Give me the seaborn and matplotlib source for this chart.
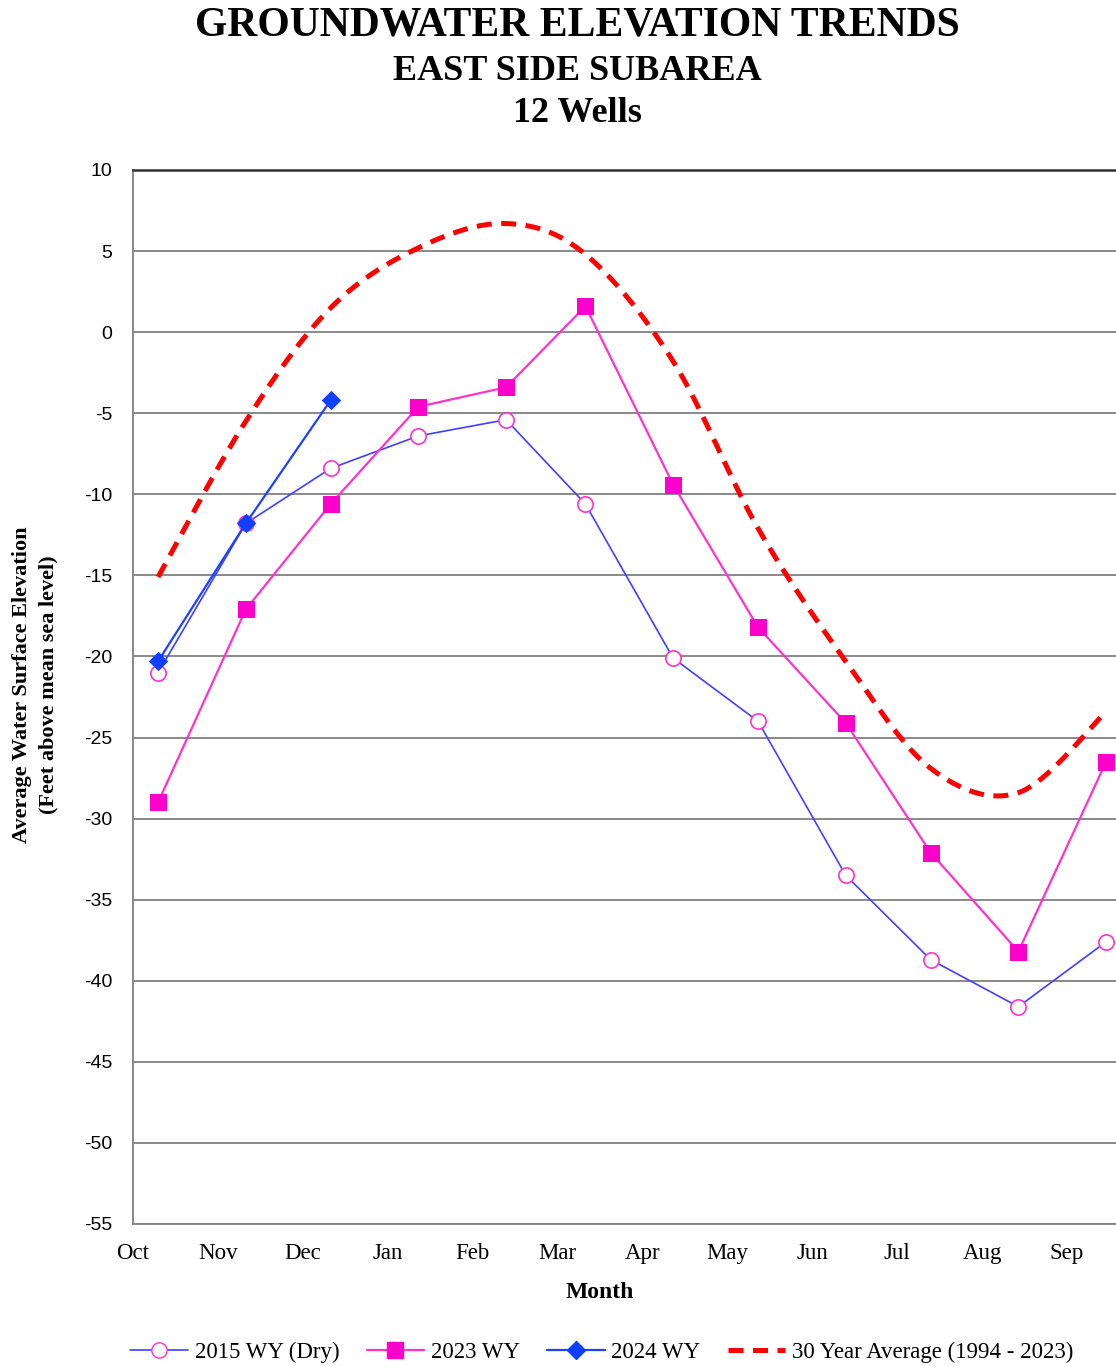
import numpy as np
import matplotlib
matplotlib.use("Agg")
import matplotlib.pyplot as plt
from matplotlib.lines import Line2D
import seaborn as sns

# Meses do ano hidrologico (Oct - Sep)
months = ['Oct', 'Nov', 'Dec', 'Jan', 'Feb', 'Mar', 'Apr', 'May', 'Jun', 'Jul', 'Aug', 'Sep']
# dia aproximado da medicao em cada mes
sample_day = [9, 10, 10, 11, 12, 10, 11, 11, 12, 12, 13, 14]

wy2015 = [-21.0, -11.8, -8.4, -6.4, -5.4, -10.6, -20.1, -24.0, -33.5, -38.7, -41.6, -37.6]
wy2023 = [-29.0, -17.1, -10.6, -4.6, -3.4, 1.6, -9.4, -18.2, -24.1, -32.1, -38.2, -26.5]
wy2024 = [-20.3, -11.8, -4.2]
avg30 = [-15.1, -5.5, 1.5, 5.2, 6.7, 4.8, -1.8, -12.1, -20.3, -26.9, -28.4, -23.4]

yticks = list(range(-55, 11, 5))

x = np.array([i + d / 30.5 for i, d in enumerate(sample_day)])


def smooth(xs, ys, n=25):
    # curva suavizada tipo Excel (Bezier cardinal)
    pts = np.column_stack([xs, ys])
    pad = np.vstack([pts[0], pts, pts[-1]])
    out = []
    t = np.linspace(0, 1, n)[:, None]
    for i in range(len(pts) - 1):
        p0, p1, p2, p3 = pad[i], pad[i + 1], pad[i + 2], pad[i + 3]
        c1 = p1 + (p2 - p0) / 6
        c2 = p2 - (p3 - p1) / 6
        seg = (1 - t) ** 3 * p1 + 3 * (1 - t) ** 2 * t * c1 + 3 * (1 - t) * t ** 2 * c2 + t ** 3 * p2
        out.append(seg if i == 0 else seg[1:])
    return np.vstack(out)


sns.set_style("white")
plt.rcParams['font.family'] = ['Liberation Serif', 'DejaVu Serif']
plt.rcParams['text.color'] = 'black'
plt.rcParams['axes.labelcolor'] = 'black'
plt.rcParams['xtick.color'] = 'black'
plt.rcParams['ytick.color'] = 'black'

fig = plt.figure(figsize=(11.16, 13.66), dpi=100)
ax = fig.add_axes([133 / 1116, 1 - 1224 / 1366, (1152 - 133) / 1116, (1224 - 170) / 1366])

c_blue = '#4040ff'
c_mag = '#ff33cc'
c_red = '#ff0000'

sns.lineplot(x=x, y=wy2015, ax=ax, color=c_blue, linewidth=1.2, marker='o',
             markersize=11, markerfacecolor='white', markeredgecolor=c_mag,
             markeredgewidth=1.2, zorder=3)
sns.lineplot(x=x, y=wy2023, ax=ax, color=c_mag, linewidth=1.6, marker='s',
             markersize=12, markerfacecolor='#ff00cc', markeredgecolor='#ff00cc', zorder=4)
sns.lineplot(x=x[:3], y=wy2024, ax=ax, color='#2040ff', linewidth=1.6, marker='D',
             markersize=9, markerfacecolor='#1040ff', markeredgecolor='#1040ff', zorder=5)

curve = smooth(x, avg30)
sns.lineplot(x=curve[:, 0], y=curve[:, 1], ax=ax, color=c_red, linewidth=3.6,
             sort=False, zorder=6)
ax.lines[-1].set_dashes((3.0, 1.9))

ax.set_xlim(0, 12)
ax.set_ylim(-55, 10)
ax.set_yticks(yticks)
ax.set_yticklabels([str(v) for v in yticks], fontfamily='Liberation Sans', fontsize=14)
ax.set_xticks(range(12))
ax.set_xticklabels(months, fontsize=16.5)
ax.tick_params(axis='both', direction='out', length=6, width=1.2, color='#808080')
ax.tick_params(axis='y', pad=9)
ax.tick_params(axis='x', pad=8)
ax.grid(axis='y', color='#808080', linewidth=1.3)
ax.set_axisbelow(True)
for s in ['left', 'bottom', 'right']:
    ax.spines[s].set_color('#808080')
    ax.spines[s].set_linewidth(1.3)
ax.spines['top'].set_color('#303030')
ax.spines['top'].set_linewidth(1.8)

ax.set_xlabel('')
ax.set_ylabel('')
fig.text(600 / 1116, 1 - 1292 / 1366, 'Month', ha='center', va='center',
         fontsize=17, fontweight='bold')
fig.text(22 / 1116, 1 - 685 / 1366, 'Average Water Surface Elevation', rotation=90,
         ha='center', va='center', fontsize=16, fontweight='bold')
fig.text(48 / 1116, 1 - 685 / 1366, '(Feet above mean sea level)', rotation=90,
         ha='center', va='center', fontsize=16, fontweight='bold')

fig.text(577 / 1116, 1 - 25 / 1366, 'GROUNDWATER ELEVATION TRENDS', ha='center', va='center',
         fontsize=30, fontweight='bold')
fig.text(577 / 1116, 1 - 72 / 1366, 'EAST SIDE SUBAREA', ha='center', va='center',
         fontsize=26, fontweight='bold')
fig.text(577 / 1116, 1 - 113 / 1366, '12 Wells', ha='center', va='center',
         fontsize=26, fontweight='bold')

handles = [
    Line2D([], [], color=c_blue, lw=1.2, marker='o', ms=11, mfc='white', mec=c_mag),
    Line2D([], [], color=c_mag, lw=1.6, marker='s', ms=12, mfc='#ff00cc', mec='#ff00cc'),
    Line2D([], [], color='#2040ff', lw=1.6, marker='D', ms=9, mfc='#1040ff', mec='#1040ff'),
    Line2D([], [], color=c_red, lw=3.6, dashes=(3.0, 1.9)),
]
labels = ['2015 WY (Dry)', '2023 WY', '2024 WY', '30 Year Average (1994 - 2023)']
fig.legend(handles, labels, loc='center', bbox_to_anchor=(602 / 1116, 1 - 1352 / 1366),
           ncol=4, frameon=False, fontsize=16.5, handlelength=2.5, columnspacing=1.2,
           handletextpad=0.3)

fig.savefig('out.png', dpi=100)
